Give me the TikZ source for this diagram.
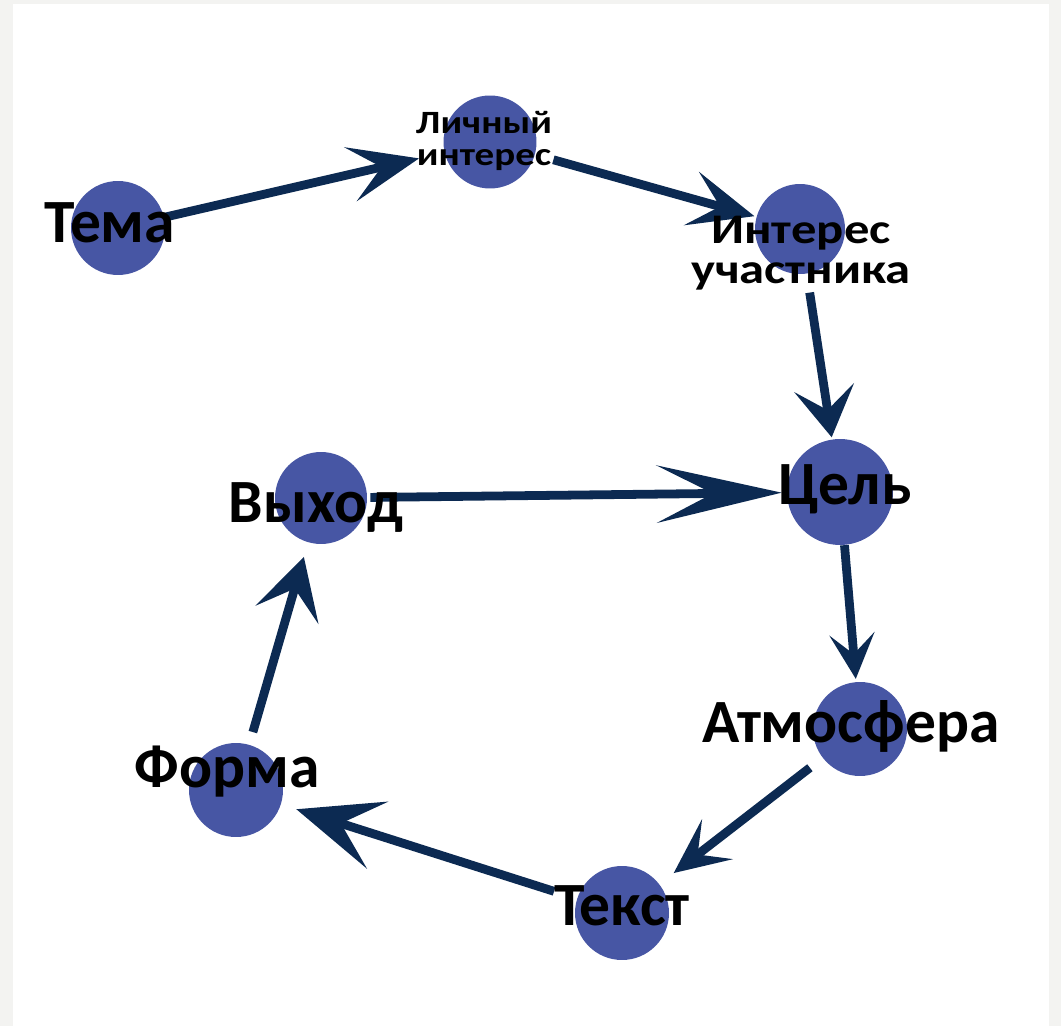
\documentclass[tikz,border=0pt]{standalone}
\usepackage{fontspec}
\setmainfont{Carlito}
\usetikzlibrary{arrows.meta}
\definecolor{dotblue}{HTML}{4756A4}
\definecolor{arrowblue}{HTML}{0C2A52}
\definecolor{paper}{HTML}{F3F3F1}

\begin{document}
\begin{tikzpicture}[x=0.02cm, y=-0.02cm,
    dot/.style={circle, fill=dotblue, inner sep=0pt, minimum size=#1},
    word/.style={font=\fontsize{35}{38}\selectfont\bfseries, inner sep=0pt, anchor=base},
    smallword/.style 2 args={inner sep=0pt, anchor=center, align=center,
        font=\fontsize{#1}{#2}\selectfont\bfseries\addfontfeature{FakeStretch=1.2}},
    flow/.style 2 args={draw=arrowblue, line width=5pt,
        -{Stealth[length=#1, width=#2, inset'=0pt 0.45]}}]
    % page
    \fill[paper] (0,0) rectangle (1061,1026);
    \fill[white] (13,4) rectangle (1049,1026);
    \useasboundingbox (0,0) rectangle (1061,1026);
    % circles
    \foreach \n/\x/\y/\d in {tema/118/228/1.88, lichny/490/142/1.86,
        uchastnik/800/229/1.80, tsel/840/492/2.12, vykhod/321/498/1.84,
        atmo/860/729/1.88, tekst/622/913/1.88, forma/236/790/1.88}
        \node[dot=\d cm] (\n) at (\x,\y) {};
    % arrows
    \draw[flow={1.4cm}{1.1cm}, shorten >=0.52cm] (tema) -- (lichny);
    \draw[flow={1.3cm}{1.1cm}, shorten <=0.38cm, shorten >=0.04cm] (lichny) -- (uchastnik);
    \draw[flow={1.0cm}{1.2cm}, shorten <=0.38cm, shorten >=0.04cm] (uchastnik) -- (tsel);
    \draw[flow={2.5cm}{1.15cm}, shorten <=0.06cm, shorten >=0.1cm] (vykhod) -- (tsel);
    \draw[flow={0.9cm}{0.9cm}, shorten >=0.06cm] (tsel) -- (atmo);
    \draw[flow={1.1cm}{1.0cm}, shorten <=0.32cm, shorten >=0.36cm] (atmo) -- (tekst);
    \draw[flow={1.7cm}{1.4cm}, shorten <=0.48cm, shorten >=0.32cm] (tekst) -- (forma);
    \draw[flow={1.2cm}{1.3cm}, shorten <=0.26cm, shorten >=0.3cm] (forma) -- (vykhod);
    % labels
    \node[word] (tema-t) at (110,243) {Тема};
    \node[smallword={18.5}{18}] (lichny-t) at (484,141) {Личный\\интерес};
    \node[smallword={24}{22.5}] (uchastnik-t) at (801,253) {Интерес\\участника};
    \node[word] (tsel-t) at (845,505) {Цель};
    \node[word] (vykhod-t) at (316,523) {Выход};
    \node[word] (atmo-t) at (851,742) {Атмосфера};
    \node[word] (tekst-t) at (622,925) {Текст};
    \node[word] (forma-t) at (227,787) {Форма};
\end{tikzpicture}
\end{document}
